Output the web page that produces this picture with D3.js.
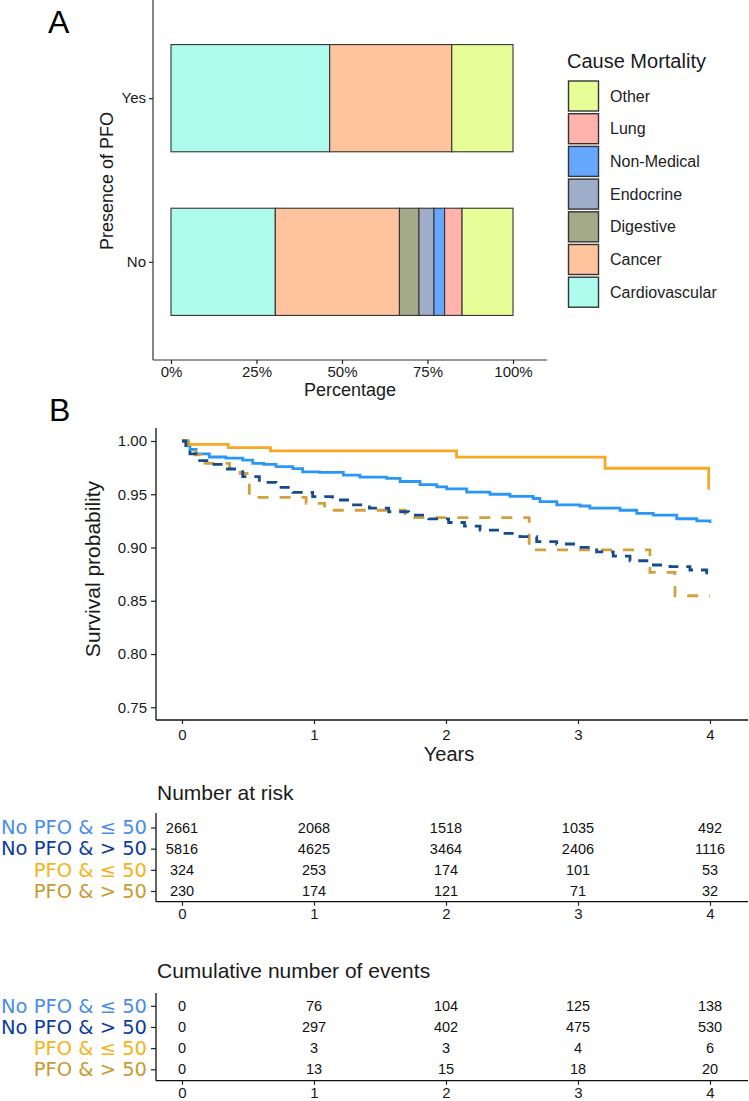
<!DOCTYPE html>
<html>
<head>
<meta charset="utf-8">
<script src="https://cdn.jsdelivr.net/npm/d3@7"></script>
<style>
body{margin:0;background:#fff;}
text{font-family:"Liberation Sans",Arial,sans-serif;}
</style>
</head>
<body>
<svg id="chart" width="749" height="1101"></svg>
<script>
// ---- panel A data (share of deaths by cause) ----
var causes = ["Cardiovascular","Cancer","Digestive","Endocrine","Non-Medical","Lung","Other"];
var causeColors = ["#ADFCEE","#FFC39D","#A4AA89","#9EAEC8","#66A7FF","#FFB3AA","#E7FE98"];
var pfoGroups = ["Yes","No"];
var shareYes = [0.464,0.357,0,0,0,0,0.179];
var shareNo = [0.305,0.363,0.057,0.044,0.031,0.051,0.149];
var pctTicks = [0,0.25,0.5,0.75,1];

// ---- panel B data (Kaplan-Meier estimates) ----
var groups = ["No PFO & \u2264 50","No PFO & > 50","PFO & \u2264 50","PFO & > 50"];
var groupColors = ["#2A96F5","#164B8C","#F9A825","#D2A03C"];
var labelColors = ["#4A8DE8","#0E3C9E","#F5B318","#C99A32"];
var groupDash = [null,"10,8",null,"11,11"];

var tNoLe50 = [0,0.03,0.06,0.106,0.207,0.333,0.46,0.536,0.62,0.712,0.839,0.914,1.04,1.222,1.348,1.551,1.652,1.803,1.93,2.005,2.157,2.333,2.485,2.661,2.712,2.839,3.015,3.09,3.318,3.445,3.57,3.748,3.9,4.0];
var sNoLe50 = [1,0.996,0.992,0.988,0.985,0.984,0.982,0.979,0.978,0.976,0.974,0.971,0.9706,0.968,0.966,0.965,0.962,0.959,0.957,0.955,0.952,0.950,0.948,0.946,0.943,0.940,0.939,0.937,0.935,0.932,0.9305,0.927,0.925,0.923];
var tNoGt50 = [0,0.03,0.06,0.106,0.207,0.333,0.46,0.586,0.712,0.839,0.99,1.14,1.288,1.42,1.566,1.717,1.869,2.02,2.14,2.258,2.41,2.56,2.687,2.839,2.99,3.141,3.267,3.394,3.545,3.697,3.848,3.975,4.0];
var sNoGt50 = [1,0.994,0.988,0.9815,0.978,0.9737,0.9665,0.9612,0.9565,0.9518,0.9477,0.9446,0.940,0.937,0.9336,0.9305,0.9268,0.9235,0.920,0.9164,0.9133,0.9102,0.9055,0.9033,0.9002,0.896,0.892,0.8876,0.8836,0.882,0.8789,0.8733,0.8727];
var tPfoLe50 = [0,0.05,0.35,0.67,2.08,3.205,3.99,4.0];
var sPfoLe50 = [1,0.9969,0.9938,0.9907,0.9848,0.9744,0.9556,0.9556];
var tPfoGt50 = [0,0.05,0.1,0.14,0.36,0.44,0.51,0.94,1.08,1.69,2.63,3.545,3.735,4.0];
var sPfoGt50 = [1,0.9957,0.987,0.979,0.9743,0.9695,0.947,0.9415,0.935,0.928,0.8977,0.8767,0.8547,0.8547];
var survTicks = [0.75,0.80,0.85,0.90,0.95,1.00];
var yearTicks = [0,1,2,3,4];

// risk table
var riskNoLe50 = [2661,2068,1518,1035,492];
var riskNoGt50 = [5816,4625,3464,2406,1116];
var riskPfoLe50 = [324,253,174,101,53];
var riskPfoGt50 = [230,174,121,71,32];
// cumulative events
var evNoLe50 = [0,76,104,125,138];
var evNoGt50 = [0,297,402,475,530];
var evPfoLe50 = [0,3,3,4,6];
var evPfoGt50 = [0,13,15,18,20];

var ink = "#1a1a1a";
var svg = d3.select("#chart");
svg.append("rect").attr("width",749).attr("height",1101).style("fill","#fff");

function styleAxis(a,size,color){
  a.select(".domain").remove();
  a.selectAll("line").style("stroke","#222").attr("stroke-width",1.2);
  a.selectAll("text").style("font-size",size).style("fill",color || ink);
}

// ================= panel A =================
var xA = d3.scaleLinear().domain([0,1]).range([171,513]);
var yA = d3.scalePoint().domain(pfoGroups).range([0,360]).padding(0.6);
var barH = yA.step()*0.655;

var rowsA = [shareYes,shareNo].map(function(v,i){
  var o = {grp:pfoGroups[i]};
  causes.forEach(function(c,j){ o[c]=v[j]; });
  return o;
});
var stackA = d3.stack().keys(causes)(rowsA);

var gA = svg.append("g");
gA.selectAll("g.layer").data(stackA).enter().append("g")
  .style("fill",function(d,i){return causeColors[i];})
  .selectAll("rect").data(function(d){return d.filter(function(p){return p[1]-p[0]>0;});})
  .enter().append("rect")
  .attr("x",function(d){return xA(d[0]);})
  .attr("width",function(d){return xA(d[1])-xA(d[0]);})
  .attr("y",function(d){return yA(d.data.grp)-barH/2;})
  .attr("height",barH)
  .style("stroke","#333").attr("stroke-width",1.1);

// axes lines
gA.append("line").attr("x1",153).attr("x2",153).attr("y1",0).attr("y2",360).style("stroke","#333").attr("stroke-width",1.2);
gA.append("line").attr("x1",153).attr("x2",547).attr("y1",360).attr("y2",360).style("stroke","#333").attr("stroke-width",1.2);

var axA = gA.append("g").attr("transform","translate(0,360)")
  .call(d3.axisBottom(xA).tickValues(pctTicks).tickFormat(d3.format(".0%")).tickSize(4).tickPadding(2).tickSizeOuter(0));
var ayA = gA.append("g").attr("transform","translate(153,0)")
  .call(d3.axisLeft(yA).tickSize(4).tickPadding(3).tickSizeOuter(0));
styleAxis(axA,"15px");
styleAxis(ayA,"15px");

gA.append("text").attr("x",350).attr("y",396).attr("text-anchor","middle").style("font-size","18px").style("fill",ink).text("Percentage");
gA.append("text").attr("transform","translate(113,181) rotate(-90)").attr("text-anchor","middle").style("font-size","18px").style("fill",ink).text("Presence of PFO");
svg.append("text").attr("x",48).attr("y",33).style("font-size","32px").style("fill","#000").text("A");

// legend
var leg = gA.append("g");
leg.append("text").attr("x",567).attr("y",68).style("font-size","20px").style("fill",ink).text("Cause Mortality");
var legOrder = causes.slice().reverse();
legOrder.forEach(function(c,i){
  var y0 = 81+i*32.7;
  leg.append("rect").attr("x",568.5).attr("y",y0).attr("width",30).attr("height",30)
    .style("fill",causeColors[causes.indexOf(c)]).style("stroke","#333").attr("stroke-width",1.4);
  leg.append("text").attr("x",610).attr("y",y0+15).attr("dy","0.35em").style("font-size","16px").style("fill","#222").text(c);
});

// ================= panel B =================
svg.append("text").attr("x",49).attr("y",421).style("font-size","32px").style("fill","#000").text("B");

var xS = d3.scaleLinear().domain([0,4]).range([182,710]);
var yS = d3.scaleLinear().domain([0.75,1]).range([707.3,441]);

var gB = svg.append("g");
gB.append("line").attr("x1",156).attr("x2",156).attr("y1",428).attr("y2",720).style("stroke","#111").attr("stroke-width",1.3);
gB.append("line").attr("x1",156).attr("x2",748).attr("y1",720).attr("y2",720).style("stroke","#111").attr("stroke-width",1.3);

var axS = gB.append("g").attr("transform","translate(0,720)")
  .call(d3.axisBottom(xS).tickValues(yearTicks).tickFormat(d3.format("d")).tickSize(4).tickPadding(5).tickSizeOuter(0));
var ayS = gB.append("g").attr("transform","translate(156,0)")
  .call(d3.axisLeft(yS).tickValues(survTicks).tickFormat(d3.format(".2f")).tickSize(5).tickPadding(4).tickSizeOuter(0));
styleAxis(axS,"15px");
styleAxis(ayS,"15px");

gB.append("text").attr("x",449).attr("y",761).attr("text-anchor","middle").style("font-size","20px").style("fill",ink).text("Years");
gB.append("text").attr("transform","translate(100,569) rotate(-90)").attr("text-anchor","middle").style("font-size","21px").style("fill",ink).text("Survival probability");

var curves = [
  {t:tNoLe50,s:sNoLe50,g:0},
  {t:tPfoLe50,s:sPfoLe50,g:2},
  {t:tPfoGt50,s:sPfoGt50,g:3},
  {t:tNoGt50,s:sNoGt50,g:1}
];
var km = d3.line().curve(d3.curveStepAfter)
  .x(function(d){return xS(d[0]);}).y(function(d){return yS(d[1]);});
curves.forEach(function(c){
  var pts = c.t.map(function(t,i){return [t,c.s[i]];});
  gB.append("path").datum(pts).attr("d",km).style("fill","none")
    .style("stroke",groupColors[c.g]).attr("stroke-width",2.8)
    .attr("stroke-dasharray",groupDash[c.g]);
});

// ================= tables =================
function drawTable(title,titleY,rows,rowTop,rowBottom,axisY,axisTop){
  var g = svg.append("g");
  var yT = d3.scalePoint().domain(groups).range([rowTop,rowBottom]);
  g.append("text").attr("x",157).attr("y",titleY).style("font-size","21px").style("fill",ink).text(title);
  g.append("line").attr("x1",156).attr("x2",156).attr("y1",axisTop).attr("y2",axisY).style("stroke","#111").attr("stroke-width",1.3);
  g.append("line").attr("x1",156).attr("x2",748).attr("y1",axisY).attr("y2",axisY).style("stroke","#111").attr("stroke-width",1.3);
  var ax = g.append("g").attr("transform","translate(0,"+axisY+")")
    .call(d3.axisBottom(xS).tickValues(yearTicks).tickFormat(d3.format("d")).tickSize(4).tickPadding(3).tickSizeOuter(0));
  var ay = g.append("g").attr("transform","translate(156,0)")
    .call(d3.axisLeft(yT).tickSize(5).tickPadding(4).tickSizeOuter(0));
  styleAxis(ax,"15px");
  styleAxis(ay,"19.5px");
  ay.selectAll("text").style("font-family","'DejaVu Sans',sans-serif")
    .style("fill",function(d,i){return labelColors[i];});
  rows.forEach(function(vals,i){
    g.selectAll(null).data(vals).enter().append("text")
      .attr("x",function(d,j){return xS(yearTicks[j]);})
      .attr("y",yT(groups[i])).attr("dy","0.35em")
      .attr("text-anchor","middle").style("font-size","14.5px").style("fill","#111")
      .text(function(d){return d;});
  });
}
drawTable("Number at risk",800,[riskNoLe50,riskNoGt50,riskPfoLe50,riskPfoGt50],827.5,891,901.7,813);
drawTable("Cumulative number of events",978,[evNoLe50,evNoGt50,evPfoLe50,evPfoGt50],1005.8,1069.3,1080.7,993);
</script>
</body>
</html>
